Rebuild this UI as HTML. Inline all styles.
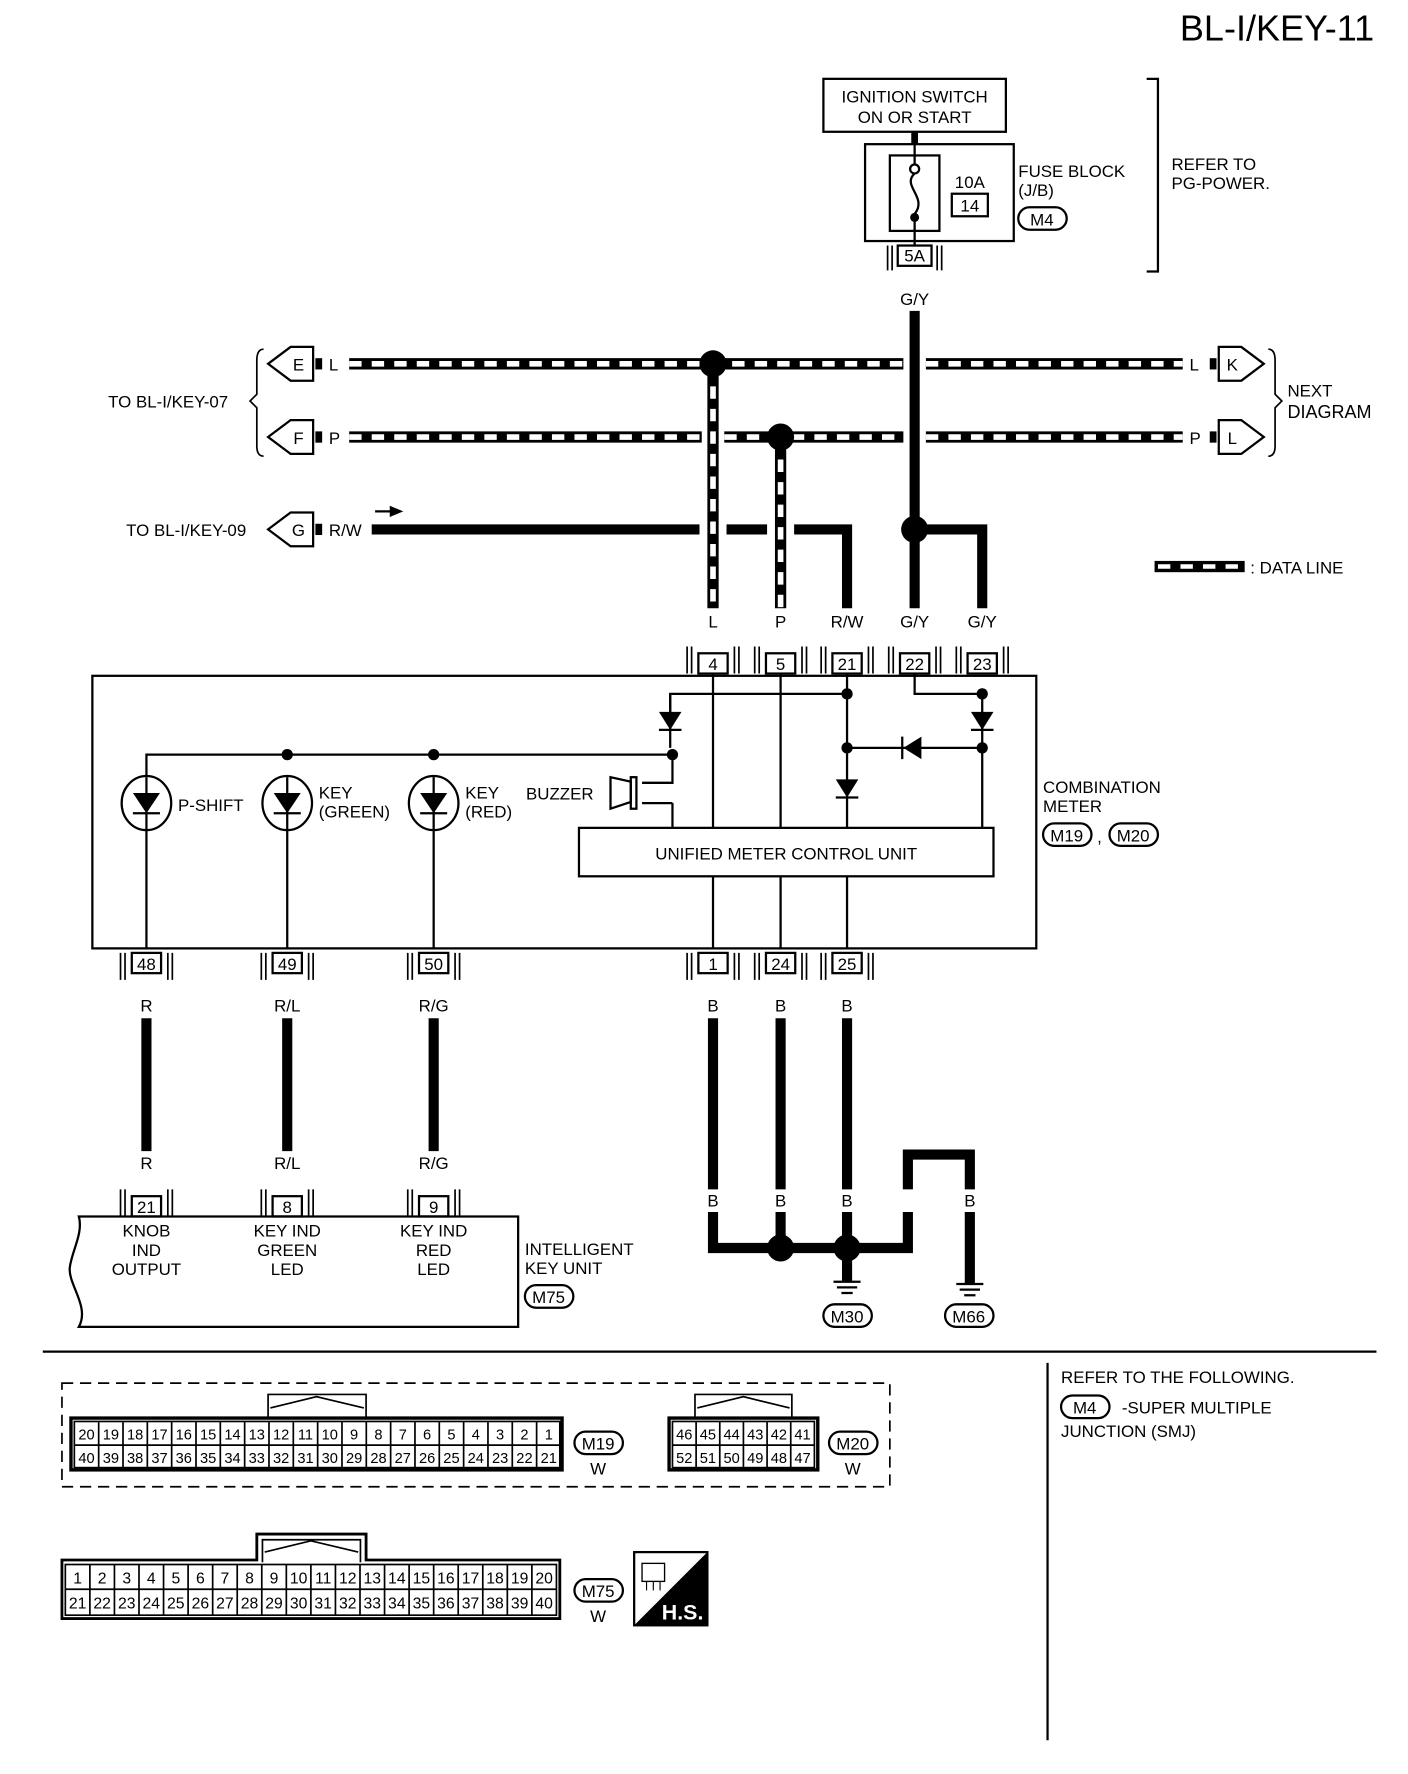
<!DOCTYPE html>
<html><head><meta charset="utf-8"><style>
html,body{margin:0;padding:0;background:#fff}
svg{display:block}
text{font-family:"Liberation Sans",sans-serif;fill:#000}
</style></head><body>
<svg width="1408" height="1774" viewBox="0 0 1250 1575" preserveAspectRatio="none" xmlns="http://www.w3.org/2000/svg">
<g font-size="15">
<text x="1220" y="36" font-size="32" text-anchor="end">BL-I/KEY-11</text>

<!-- ignition -->
<rect x="731" y="70" width="162" height="47" fill="none" stroke="#000" stroke-width="2"/>
<text x="812" y="91" text-anchor="middle">IGNITION SWITCH</text>
<text x="812" y="109" text-anchor="middle">ON OR START</text>
<line x1="812" y1="117" x2="812" y2="128" stroke="#000" stroke-width="6"/>
<rect x="768" y="128" width="132" height="86" fill="none" stroke="#000" stroke-width="2"/>
<rect x="790" y="138" width="44" height="67" fill="none" stroke="#000" stroke-width="2"/>
<circle cx="812" cy="150" r="4" fill="none" stroke="#000" stroke-width="2"/>
<path d="M812 154 C800 165,824 175,812 190" fill="none" stroke="#000" stroke-width="2"/>
<circle cx="812" cy="193" r="4" fill="#000"/>
<line x1="812" y1="128" x2="812" y2="146" stroke="#000" stroke-width="2"/>
<line x1="812" y1="193" x2="812" y2="218" stroke="#000" stroke-width="2"/>
<text x="861" y="167" text-anchor="middle">10A</text>
<rect x="845" y="172" width="32" height="20" fill="none" stroke="#000" stroke-width="2"/>
<text x="861" y="188" text-anchor="middle">14</text>
<text x="904" y="157">FUSE BLOCK</text>
<text x="904" y="174">(J/B)</text>
<rect x="904" y="184" width="43" height="20" rx="10" fill="none" stroke="#000" stroke-width="2"/>
<text x="925" y="200" text-anchor="middle">M4</text>
<path d="M1018 70 H1028 V241 H1018" fill="none" stroke="#000" stroke-width="2"/>
<text x="1040" y="151">REFER TO</text>
<text x="1040" y="168">PG-POWER.</text>
<!-- 5A connector -->
<rect x="797" y="218" width="30" height="18" fill="none" stroke="#000" stroke-width="2"/>
<text x="812" y="232" text-anchor="middle">5A</text>
<path d="M792 218V240M788 218V240M832 218V240M836 218V240" stroke="#000" stroke-width="1.5"/>
<text x="812" y="271" text-anchor="middle">G/Y</text>
<line x1="812" y1="276" x2="812" y2="540" stroke="#000" stroke-width="9"/>
<circle cx="812" cy="470" r="12" fill="#000"/>
<path d="M812 470 H872 V540" fill="none" stroke="#000" stroke-width="9"/>

<!-- R/W line (broken at data-line crossings) -->
<path d="M330 470H621M645 470H681M705 470H752V540" fill="none" stroke="#000" stroke-width="9"/>
<path d="M333 454H350" stroke="#000" stroke-width="2"/><path d="M346 449L358 454L346 459Z" fill="#000"/>

<!-- data lines -->
<g stroke-width="10" fill="none">
<path d="M310 323H802M822 323H1050M310 388H623M643 388H802M822 388H1050M633 323V540M693 388V540" stroke="#000"/>
<path d="M310 323H802M822 323H1050M310 388H623M643 388H802M822 388H1050M633 323V540M693 388V540" stroke="#fff" stroke-width="5" stroke-dasharray="11 9"/>
</g>
<circle cx="633" cy="323" r="12" fill="#000"/>
<circle cx="693" cy="388" r="12" fill="#000"/>

<!-- left arrows -->
<g fill="none" stroke="#000" stroke-width="2">
<path d="M238 323L258 308H278V338H258Z"/>
<path d="M238 388L258 373H278V403H258Z"/>
<path d="M238 470L258 455H278V485H258Z"/>
<path d="M1122 323L1102 308H1082V338H1102Z"/>
<path d="M1122 388L1102 373H1082V403H1102Z"/>
</g>
<text x="265" y="329" text-anchor="middle">E</text>
<text x="265" y="394" text-anchor="middle">F</text>
<text x="265" y="476" text-anchor="middle">G</text>
<text x="1094" y="329" text-anchor="middle">K</text>
<text x="1094" y="394" text-anchor="middle">L</text>
<rect x="280" y="318" width="6" height="10"/><rect x="280" y="383" width="6" height="10"/><rect x="280" y="465" width="6" height="10"/>
<rect x="1074" y="318" width="6" height="10"/><rect x="1074" y="383" width="6" height="10"/>
<text x="292" y="329">L</text><text x="292" y="394">P</text><text x="292" y="476">R/W</text>
<text x="1056" y="329">L</text><text x="1056" y="394">P</text>
<path d="M234 310Q228 310 228 320V350L222 356L228 362V396Q228 405 234 405" fill="none" stroke="#000" stroke-width="1.5"/>
<path d="M1126 310Q1132 310 1132 320V350L1138 356L1132 362V396Q1132 405 1126 405" fill="none" stroke="#000" stroke-width="1.5"/>
<text x="96" y="362">TO BL-I/KEY-07</text>
<text x="112" y="476">TO BL-I/KEY-09</text>
<text x="1143" y="352">NEXT</text>
<text x="1143" y="371" font-size="16">DIAGRAM</text>
<rect x="1025" y="498" width="80" height="10" fill="#000"/>
<path d="M1028 503H1102" stroke="#fff" stroke-width="4" stroke-dasharray="11 9"/>
<text x="1110" y="509">: DATA LINE</text>

<!-- wire labels top -->
<text x="633" y="557" text-anchor="middle">L</text>
<text x="693" y="557" text-anchor="middle">P</text>
<text x="752" y="557" text-anchor="middle">R/W</text>
<text x="812" y="557" text-anchor="middle">G/Y</text>
<text x="872" y="557" text-anchor="middle">G/Y</text>

<!-- connectors -->
<g fill="none" stroke="#000" stroke-width="2">
<rect x="620" y="580" width="26" height="18"/><rect x="680" y="580" width="26" height="18"/><rect x="739" y="580" width="26" height="18"/><rect x="799" y="580" width="26" height="18"/><rect x="859" y="580" width="26" height="18"/>
<rect x="117" y="846" width="26" height="18"/><rect x="242" y="846" width="26" height="18"/><rect x="372" y="846" width="26" height="18"/><rect x="620" y="846" width="26" height="18"/><rect x="680" y="846" width="26" height="18"/><rect x="739" y="846" width="26" height="18"/>
<rect x="117" y="1062" width="26" height="18"/><rect x="242" y="1062" width="26" height="18"/><rect x="372" y="1062" width="26" height="18"/>
</g>
<g stroke="#000" stroke-width="1.5">
<path d="M614 574V598M610 574V598M652 574V598M656 574V598M674 574V598M670 574V598M712 574V598M716 574V598M733 574V598M729 574V598M771 574V598M775 574V598M793 574V598M789 574V598M831 574V598M835 574V598M853 574V598M849 574V598M891 574V598M895 574V598"/>
<path d="M111 846V870M107 846V870M149 846V870M153 846V870M236 846V870M232 846V870M274 846V870M278 846V870M366 846V870M362 846V870M404 846V870M408 846V870M614 846V870M610 846V870M652 846V870M656 846V870M674 846V870M670 846V870M712 846V870M716 846V870M733 846V870M729 846V870M771 846V870M775 846V870"/>
<path d="M111 1056V1080M107 1056V1080M149 1056V1080M153 1056V1080M236 1056V1080M232 1056V1080M274 1056V1080M278 1056V1080M366 1056V1080M362 1056V1080M404 1056V1080M408 1056V1080"/>
</g>
<g text-anchor="middle">
<text x="633" y="595">4</text><text x="693" y="595">5</text><text x="752" y="595">21</text><text x="812" y="595">22</text><text x="872" y="595">23</text>
<text x="130" y="861">48</text><text x="255" y="861">49</text><text x="385" y="861">50</text><text x="633" y="861">1</text><text x="693" y="861">24</text><text x="752" y="861">25</text>
<text x="130" y="1077">21</text><text x="255" y="1077">8</text><text x="385" y="1077">9</text>
</g>

<!-- combination meter -->
<rect x="82" y="600" width="838" height="242" fill="none" stroke="#000" stroke-width="2"/>
<g stroke="#000" stroke-width="2" fill="none">
<path d="M633 598V735M693 598V735M752 598V735M633 778V842M693 778V842M752 778V842M130 691V842M255 691V842M385 691V842"/>
<path d="M595 664V616H752M812 598V616H872V735"/>
<path d="M130 691V670H597V695H570M597 713H570M597 713V735M752 664H872M595 616V632"/>
</g>
<rect x="514" y="735" width="368" height="43" fill="#fff" stroke="#000" stroke-width="2"/>
<text x="698" y="763" text-anchor="middle">UNIFIED METER CONTROL UNIT</text>
<g fill="#000">
<circle cx="255" cy="670" r="5"/><circle cx="385" cy="670" r="5"/><circle cx="597" cy="670" r="5"/>
<circle cx="752" cy="616" r="5"/><circle cx="872" cy="616" r="5"/><circle cx="752" cy="664" r="5"/><circle cx="872" cy="664" r="5"/>
<path d="M585 632H605L595 648Z"/><path d="M862 632H882L872 648Z"/><path d="M742 692H762L752 708Z"/>
<path d="M818 654V674L802 664Z"/>
</g>
<path d="M585 648H605M862 648H882M742 708H762M801 654V674" stroke="#000" stroke-width="2"/>
<!-- buzzer -->
<path d="M542 690L560 694V712L542 718Z" fill="none" stroke="#000" stroke-width="2"/>
<rect x="560" y="690" width="5" height="28" fill="none" stroke="#000" stroke-width="2"/>
<text x="467" y="710">BUZZER</text>
<!-- LEDs -->
<g stroke="#000" stroke-width="2" fill="#fff">
<ellipse cx="130" cy="713" rx="22" ry="24"/><ellipse cx="255" cy="713" rx="22" ry="24"/><ellipse cx="385" cy="713" rx="22" ry="24"/>
</g>
<g fill="#000"><path d="M118 704H142L130 722Z"/><path d="M243 704H267L255 722Z"/><path d="M373 704H397L385 722Z"/></g>
<path d="M130 690V736M255 690V736M385 690V736M118 722H142M243 722H267M373 722H397" stroke="#000" stroke-width="2"/>
<text x="158" y="720">P-SHIFT</text>
<text x="283" y="709">KEY</text><text x="283" y="726">(GREEN)</text>
<text x="413" y="709">KEY</text><text x="413" y="726">(RED)</text>
<text x="926" y="704">COMBINATION</text>
<text x="926" y="721">METER</text>
<rect x="926" y="731" width="43" height="20" rx="10" fill="none" stroke="#000" stroke-width="2"/>
<text x="947" y="747" text-anchor="middle">M19</text>
<text x="974" y="748">,</text>
<rect x="985" y="731" width="43" height="20" rx="10" fill="none" stroke="#000" stroke-width="2"/>
<text x="1006" y="747" text-anchor="middle">M20</text>

<!-- lower wires -->
<g text-anchor="middle">
<text x="130" y="898">R</text><text x="255" y="898">R/L</text><text x="385" y="898">R/G</text>
<text x="130" y="1038">R</text><text x="255" y="1038">R/L</text><text x="385" y="1038">R/G</text>
<text x="633" y="898">B</text><text x="693" y="898">B</text><text x="752" y="898">B</text>
<text x="633" y="1071">B</text><text x="693" y="1071">B</text><text x="752" y="1071">B</text><text x="806" y="1071">B</text><text x="861" y="1071">B</text>
</g>
<path d="M130 904V1022M255 904V1022M385 904V1022" stroke="#000" stroke-width="9"/>
<path d="M633 904V1056M693 904V1056M752 904V1056" stroke="#000" stroke-width="9"/>
<path d="M633 1076V1108H806V1025H861V1056" fill="none" stroke="#000" stroke-width="9"/>
<path d="M806 1056V1076" stroke="#fff" stroke-width="11"/>
<path d="M693 1076V1108M752 1076V1138M861 1076V1140" stroke="#000" stroke-width="9"/>
<circle cx="693" cy="1108" r="12" fill="#000"/><circle cx="752" cy="1108" r="12" fill="#000"/>
<path d="M740 1138H764M743 1143H761M747 1148H757M849 1140H873M852 1145H870M856 1150H866" stroke="#000" stroke-width="2"/>
<rect x="731" y="1158" width="43" height="20" rx="10" fill="none" stroke="#000" stroke-width="2"/>
<text x="752" y="1174" text-anchor="middle">M30</text>
<rect x="839" y="1158" width="43" height="20" rx="10" fill="none" stroke="#000" stroke-width="2"/>
<text x="860" y="1174" text-anchor="middle">M66</text>

<!-- intelligent key -->
<path d="M70 1080H460V1178H70C80 1160 60 1140 62 1125C64 1110 74 1095 70 1080Z" fill="none" stroke="#000" stroke-width="2"/>
<g text-anchor="middle">
<text x="130" y="1098">KNOB</text><text x="130" y="1115">IND</text><text x="130" y="1132">OUTPUT</text>
<text x="255" y="1098">KEY IND</text><text x="255" y="1115">GREEN</text><text x="255" y="1132">LED</text>
<text x="385" y="1098">KEY IND</text><text x="385" y="1115">RED</text><text x="385" y="1132">LED</text>
</g>
<text x="466" y="1114">INTELLIGENT</text><text x="466" y="1131">KEY UNIT</text>
<rect x="466" y="1141" width="43" height="20" rx="10" fill="none" stroke="#000" stroke-width="2"/>
<text x="487" y="1157" text-anchor="middle">M75</text>

<!-- separators -->
<path d="M38 1200H1222M930 1210V1545" stroke="#000" stroke-width="2"/>
<text x="942" y="1228">REFER TO THE FOLLOWING.</text>
<rect x="942" y="1239" width="43" height="20" rx="10" fill="none" stroke="#000" stroke-width="2"/>
<text x="963" y="1255" text-anchor="middle">M4</text>
<text x="996" y="1255">-SUPER MULTIPLE</text>
<text x="942" y="1276">JUNCTION (SMJ)</text>

<rect x="55" y="1228" width="735" height="92" fill="none" stroke="#000" stroke-width="1.5" stroke-dasharray="10 6"/>

<!-- M19 -->
<g fill="none" stroke="#000">
<path d="M238 1259V1238H325V1259M240 1250L281 1240L323 1250" stroke-width="1.5"/>
<rect x="63" y="1259" width="436" height="46" stroke-width="3"/>
<path d="M66 1283H497M87.6 1262V1303M109.2 1262V1303M130.8 1262V1303M152.4 1262V1303M174 1262V1303M195.6 1262V1303M217.2 1262V1303M238.8 1262V1303M260.4 1262V1303M282 1262V1303M303.6 1262V1303M325.2 1262V1303M346.8 1262V1303M368.4 1262V1303M390 1262V1303M411.6 1262V1303M433.2 1262V1303M454.8 1262V1303M476.4 1262V1303" stroke-width="1.5"/>
<rect x="66" y="1262" width="431" height="41" stroke-width="1.5"/>
</g>
<g font-size="13" text-anchor="middle">
<text x="76.8" y="1278">20</text><text x="98.4" y="1278">19</text><text x="120" y="1278">18</text><text x="141.6" y="1278">17</text><text x="163.2" y="1278">16</text><text x="184.8" y="1278">15</text><text x="206.4" y="1278">14</text><text x="228" y="1278">13</text><text x="249.6" y="1278">12</text><text x="271.2" y="1278">11</text><text x="292.8" y="1278">10</text><text x="314.4" y="1278">9</text><text x="336" y="1278">8</text><text x="357.6" y="1278">7</text><text x="379.2" y="1278">6</text><text x="400.8" y="1278">5</text><text x="422.4" y="1278">4</text><text x="444" y="1278">3</text><text x="465.6" y="1278">2</text><text x="487.2" y="1278">1</text>
<text x="76.8" y="1299">40</text><text x="98.4" y="1299">39</text><text x="120" y="1299">38</text><text x="141.6" y="1299">37</text><text x="163.2" y="1299">36</text><text x="184.8" y="1299">35</text><text x="206.4" y="1299">34</text><text x="228" y="1299">33</text><text x="249.6" y="1299">32</text><text x="271.2" y="1299">31</text><text x="292.8" y="1299">30</text><text x="314.4" y="1299">29</text><text x="336" y="1299">28</text><text x="357.6" y="1299">27</text><text x="379.2" y="1299">26</text><text x="400.8" y="1299">25</text><text x="422.4" y="1299">24</text><text x="444" y="1299">23</text><text x="465.6" y="1299">22</text><text x="487.2" y="1299">21</text>
</g>
<rect x="510" y="1271" width="43" height="20" rx="10" fill="none" stroke="#000" stroke-width="2"/>
<text x="531" y="1287" text-anchor="middle">M19</text>
<text x="531" y="1309" text-anchor="middle">W</text>

<!-- M20 -->
<g fill="none" stroke="#000">
<path d="M617 1259V1238H703V1259M619 1250L660 1240L701 1250" stroke-width="1.5"/>
<rect x="594" y="1259" width="132" height="46" stroke-width="3"/>
<rect x="597" y="1262" width="126" height="41" stroke-width="1.5"/>
<path d="M597 1283H723M618 1262V1303M639 1262V1303M660 1262V1303M681 1262V1303M702 1262V1303" stroke-width="1.5"/>
</g>
<g font-size="13" text-anchor="middle">
<text x="607.5" y="1278">46</text><text x="628.5" y="1278">45</text><text x="649.5" y="1278">44</text><text x="670.5" y="1278">43</text><text x="691.5" y="1278">42</text><text x="712.5" y="1278">41</text>
<text x="607.5" y="1299">52</text><text x="628.5" y="1299">51</text><text x="649.5" y="1299">50</text><text x="670.5" y="1299">49</text><text x="691.5" y="1299">48</text><text x="712.5" y="1299">47</text>
</g>
<rect x="736" y="1271" width="43" height="20" rx="10" fill="none" stroke="#000" stroke-width="2"/>
<text x="757" y="1287" text-anchor="middle">M20</text>
<text x="757" y="1309" text-anchor="middle">W</text>

<!-- M75 -->
<g fill="none" stroke="#000">
<path d="M55 1385H228V1362H325V1385H497V1437H55Z" stroke-width="2.5"/>
<path d="M233 1387V1367H320V1387M235 1378L276 1368L318 1378" stroke-width="1.5"/>
<rect x="58" y="1389" width="436" height="45" stroke-width="1.5"/>
<path d="M58 1411H494M79.8 1389V1434M101.6 1389V1434M123.4 1389V1434M145.2 1389V1434M167 1389V1434M188.8 1389V1434M210.6 1389V1434M232.4 1389V1434M254.2 1389V1434M276 1389V1434M297.8 1389V1434M319.6 1389V1434M341.4 1389V1434M363.2 1389V1434M385 1389V1434M406.8 1389V1434M428.6 1389V1434M450.4 1389V1434M472.2 1389V1434" stroke-width="1.5"/>
</g>
<g font-size="14" text-anchor="middle">
<text x="68.9" y="1406">1</text><text x="90.7" y="1406">2</text><text x="112.5" y="1406">3</text><text x="134.3" y="1406">4</text><text x="156.1" y="1406">5</text><text x="177.9" y="1406">6</text><text x="199.7" y="1406">7</text><text x="221.5" y="1406">8</text><text x="243.3" y="1406">9</text><text x="265.1" y="1406">10</text><text x="286.9" y="1406">11</text><text x="308.7" y="1406">12</text><text x="330.5" y="1406">13</text><text x="352.3" y="1406">14</text><text x="374.1" y="1406">15</text><text x="395.9" y="1406">16</text><text x="417.7" y="1406">17</text><text x="439.5" y="1406">18</text><text x="461.3" y="1406">19</text><text x="483.1" y="1406">20</text>
<text x="68.9" y="1428">21</text><text x="90.7" y="1428">22</text><text x="112.5" y="1428">23</text><text x="134.3" y="1428">24</text><text x="156.1" y="1428">25</text><text x="177.9" y="1428">26</text><text x="199.7" y="1428">27</text><text x="221.5" y="1428">28</text><text x="243.3" y="1428">29</text><text x="265.1" y="1428">30</text><text x="286.9" y="1428">31</text><text x="308.7" y="1428">32</text><text x="330.5" y="1428">33</text><text x="352.3" y="1428">34</text><text x="374.1" y="1428">35</text><text x="395.9" y="1428">36</text><text x="417.7" y="1428">37</text><text x="439.5" y="1428">38</text><text x="461.3" y="1428">39</text><text x="483.1" y="1428">40</text>
</g>
<rect x="510" y="1402" width="43" height="20" rx="10" fill="none" stroke="#000" stroke-width="2"/>
<text x="531" y="1418" text-anchor="middle">M75</text>
<text x="531" y="1440" text-anchor="middle">W</text>

<!-- HS icon -->
<rect x="563" y="1378" width="65" height="65" fill="#fff" stroke="#000" stroke-width="2"/>
<path d="M628 1378V1443H563Z" fill="#000"/>
<rect x="570" y="1388" width="20" height="16" fill="none" stroke="#000" stroke-width="1.2"/>
<path d="M574 1404V1412M580 1404V1412M586 1404V1412" stroke="#000" stroke-width="1"/>
<text x="606" y="1438" text-anchor="middle" font-size="19" font-weight="bold" style="fill:#fff">H.S.</text>
</g>
</svg>
</body></html>
